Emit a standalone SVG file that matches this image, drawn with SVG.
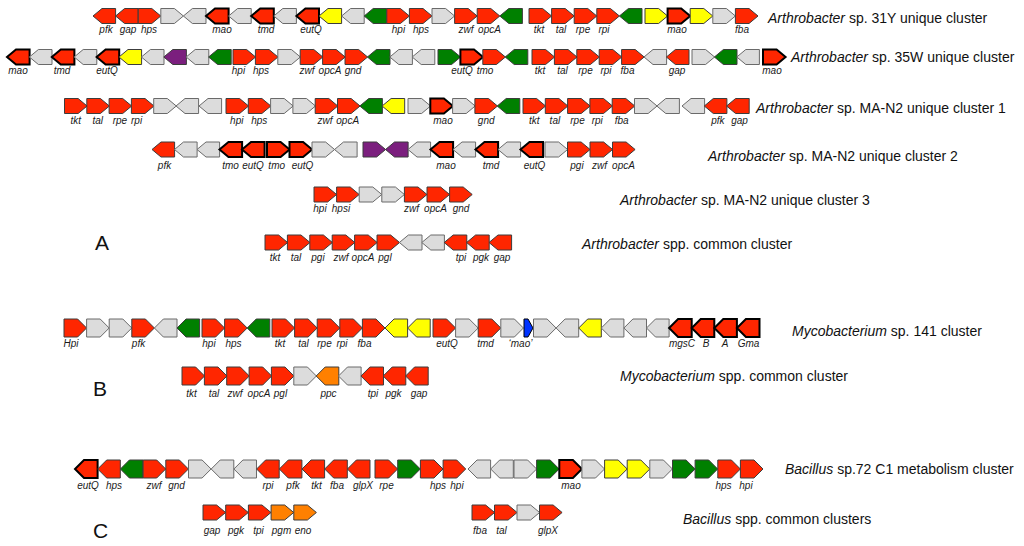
<svg xmlns="http://www.w3.org/2000/svg" width="1024" height="546" viewBox="0 0 1024 546">
<style>
use{stroke:#3c3c3c;stroke-width:1;stroke-linejoin:miter}
.r{fill:#ff2600}.g{fill:#008000}.y{fill:#ffff00}.e{fill:#dcdcdc;stroke:#6a6a6a}.p{fill:#7b1f7e}.o{fill:#ff8000}
.k{stroke:#000;stroke-width:2}
.t{font-family:"Liberation Sans",Arial,sans-serif;font-style:italic;font-size:10px;fill:#1a1a1a;text-anchor:middle}
.n{font-family:"Liberation Sans",Arial,sans-serif;font-size:14px;fill:#111}
.n tspan{font-style:italic}
.big{font-family:"Liberation Sans",Arial,sans-serif;font-size:21px;fill:#111}
</style>
<defs>
<path id="R" d="M0,0H13.6L22.6,7.5L13.6,15H0Z"/>
<path id="L" d="M22.6,0H9L0,7.5L9,15H22.6Z"/>
<path id="R2" d="M0,0H13.6L22.6,9L13.6,18H0Z"/>
<path id="L2" d="M22.6,0H9L0,9L9,18H22.6Z"/>
</defs>
<g id="row1">
<use href="#L" x="93" y="8.5" class="r"/><use href="#L" x="115.6" y="8.5" class="r"/><use href="#R" x="138.2" y="8.5" class="r"/><use href="#R" x="160.8" y="8.5" class="e"/><use href="#L" x="183.4" y="8.5" class="e"/><use href="#L" x="206" y="8.5" class="r k"/><use href="#L" x="228.6" y="8.5" class="e"/><use href="#L" x="251.2" y="8.5" class="r k"/><use href="#L" x="273.8" y="8.5" class="e"/><use href="#L" x="296.4" y="8.5" class="r k"/><use href="#L" x="319" y="8.5" class="y"/><use href="#L" x="341.6" y="8.5" class="e"/><use href="#L" x="364.2" y="8.5" class="g"/><use href="#R" x="386.8" y="8.5" class="r"/><use href="#R" x="409.4" y="8.5" class="r"/><use href="#R" x="432" y="8.5" class="e"/><use href="#R" x="454.6" y="8.5" class="r"/><use href="#R" x="477.2" y="8.5" class="r"/><use href="#L" x="499.8" y="8.5" class="g"/><use href="#R" x="529" y="8.5" class="r"/><use href="#R" x="551.6" y="8.5" class="r"/><use href="#R" x="574.2" y="8.5" class="r"/><use href="#R" x="596.8" y="8.5" class="r"/><use href="#L" x="619.4" y="8.5" class="g"/><use href="#R" x="645" y="8.5" class="y"/><use href="#R" x="667.6" y="8.5" class="r k"/><use href="#R" x="690.2" y="8.5" class="y"/><use href="#R" x="712.8" y="8.5" class="e"/><use href="#R" x="735.4" y="8.5" class="r"/>
<text class="t" y="33"><tspan x="106">pfk</tspan><tspan x="128">gap</tspan><tspan x="149">hps</tspan><tspan x="222">mao</tspan><tspan x="266">tmd</tspan><tspan x="311">eutQ</tspan><tspan x="398.5">hpi</tspan><tspan x="421">hps</tspan><tspan x="466">zwf</tspan><tspan x="489.5">opcA</tspan><tspan x="539">tkt</tspan><tspan x="561">tal</tspan><tspan x="583">rpe</tspan><tspan x="604">rpi</tspan><tspan x="677">mao</tspan><tspan x="742">fba</tspan></text>
<text class="n" x="768" y="23"><tspan>Arthrobacter</tspan> sp. 31Y unique cluster</text>
</g>
<g id="row2">
<use href="#L" x="7" y="49.5" class="r k"/><use href="#L" x="29.4" y="49.5" class="e"/><use href="#L" x="51.8" y="49.5" class="r k"/><use href="#L" x="74.2" y="49.5" class="e"/><use href="#L" x="96.6" y="49.5" class="r k"/><use href="#L" x="119" y="49.5" class="y"/><use href="#L" x="141.4" y="49.5" class="e"/><use href="#L" x="163.8" y="49.5" class="p"/><use href="#L" x="186.2" y="49.5" class="e"/><use href="#L" x="208.6" y="49.5" class="g"/><use href="#R" x="233" y="49.5" class="r"/><use href="#R" x="255.4" y="49.5" class="r"/><use href="#R" x="277.8" y="49.5" class="e"/><use href="#R" x="300.2" y="49.5" class="r"/><use href="#R" x="322.6" y="49.5" class="r"/><use href="#R" x="345" y="49.5" class="r"/><use href="#L" x="367.4" y="49.5" class="g"/><use href="#L" x="389.8" y="49.5" class="e"/><use href="#L" x="412.2" y="49.5" class="e"/><use href="#R" x="438" y="49.5" class="g"/><use href="#R" x="460.4" y="49.5" class="r k"/><use href="#R" x="482.8" y="49.5" class="r"/><use href="#L" x="505.2" y="49.5" class="g"/><use href="#R" x="532" y="49.5" class="r"/><use href="#R" x="554.4" y="49.5" class="r"/><use href="#R" x="576.8" y="49.5" class="r"/><use href="#R" x="599.2" y="49.5" class="r"/><use href="#R" x="621.6" y="49.5" class="r"/><use href="#L" x="644" y="49.5" class="e"/><use href="#L" x="666.4" y="49.5" class="r"/><use href="#R" x="692" y="49.5" class="e"/><use href="#L" x="714.4" y="49.5" class="g"/><use href="#L" x="736.8" y="49.5" class="e"/><use href="#R" x="763" y="49.5" class="r k"/>
<text class="t" y="74"><tspan x="18">mao</tspan><tspan x="62">tmd</tspan><tspan x="107">eutQ</tspan><tspan x="238.5">hpi</tspan><tspan x="261">hps</tspan><tspan x="307">zwf</tspan><tspan x="330">opcA</tspan><tspan x="353">gnd</tspan><tspan x="462">eutQ</tspan><tspan x="485">tmo</tspan><tspan x="540">tkt</tspan><tspan x="562.5">tal</tspan><tspan x="585.5">rpe</tspan><tspan x="606">rpi</tspan><tspan x="627.5">fba</tspan><tspan x="677">gap</tspan><tspan x="772">mao</tspan></text>
<text class="n" x="791" y="62"><tspan>Arthrobacter</tspan> sp. 35W unique cluster</text>
</g>
<g id="row3">
<use href="#R" x="64.5" y="98.5" class="r"/><use href="#R" x="86.8" y="98.5" class="r"/><use href="#R" x="109.1" y="98.5" class="r"/><use href="#R" x="131.4" y="98.5" class="r"/><use href="#R" x="153.7" y="98.5" class="e"/><use href="#L" x="176" y="98.5" class="e"/><use href="#L" x="199" y="98.5" class="e"/><use href="#R" x="226" y="98.5" class="r"/><use href="#R" x="248.3" y="98.5" class="r"/><use href="#R" x="270.6" y="98.5" class="e"/><use href="#R" x="292.9" y="98.5" class="e"/><use href="#R" x="315.2" y="98.5" class="r"/><use href="#R" x="337.5" y="98.5" class="r"/><use href="#L" x="359.8" y="98.5" class="g"/><use href="#L" x="382.1" y="98.5" class="y"/><use href="#R" x="408" y="98.5" class="e"/><use href="#R" x="430.3" y="98.5" class="r k"/><use href="#R" x="452.6" y="98.5" class="e"/><use href="#R" x="474.9" y="98.5" class="r"/><use href="#L" x="497.2" y="98.5" class="g"/><use href="#R" x="523" y="98.5" class="r"/><use href="#R" x="545.3" y="98.5" class="r"/><use href="#R" x="567.6" y="98.5" class="r"/><use href="#R" x="589.9" y="98.5" class="r"/><use href="#R" x="612.2" y="98.5" class="r"/><use href="#R" x="634.5" y="98.5" class="e"/><use href="#L" x="656.8" y="98.5" class="e"/><use href="#L" x="682" y="98.5" class="e"/><use href="#L" x="704.3" y="98.5" class="r"/><use href="#L" x="726.6" y="98.5" class="r"/>
<text class="t" y="124"><tspan x="75.7">tkt</tspan><tspan x="97.8">tal</tspan><tspan x="119.9">rpe</tspan><tspan x="136.6">rpi</tspan><tspan x="236.8">hpi</tspan><tspan x="259.3">hps</tspan><tspan x="325.1">zwf</tspan><tspan x="347.7">opcA</tspan><tspan x="443">mao</tspan><tspan x="486.2">gnd</tspan><tspan x="534.3">tkt</tspan><tspan x="554.9">tal</tspan><tspan x="577.5">rpe</tspan><tspan x="597.2">rpi</tspan><tspan x="621.7">fba</tspan><tspan x="717.9">pfk</tspan><tspan x="739.5">gap</tspan></text>
<text class="n" x="756" y="113"><tspan>Arthrobacter</tspan> sp. MA-N2 unique cluster 1</text>
</g>
<g id="row4">
<use href="#L" x="152" y="142" class="r"/><use href="#L" x="174.5" y="142" class="e"/><use href="#L" x="197" y="142" class="e"/><use href="#L" x="219.5" y="142" class="r k"/><use href="#L" x="242" y="142" class="r k"/><use href="#R" x="267" y="142" class="r k"/><use href="#R" x="289.5" y="142" class="r k"/><use href="#R" x="312" y="142" class="e"/><use href="#L" x="334.5" y="142" class="e"/><use href="#R" x="363" y="142" class="p"/><use href="#L" x="385.5" y="142" class="p"/><use href="#L" x="408" y="142" class="e"/><use href="#L" x="430.5" y="142" class="r k"/><use href="#L" x="453" y="142" class="e"/><use href="#L" x="475.5" y="142" class="r k"/><use href="#L" x="498" y="142" class="e"/><use href="#L" x="520.5" y="142" class="r k"/><use href="#R" x="545" y="142" class="e"/><use href="#R" x="567.5" y="142" class="r"/><use href="#R" x="590" y="142" class="r"/><use href="#R" x="612.5" y="142" class="r"/>
<text class="t" y="169"><tspan x="164.5">pfk</tspan><tspan x="230.5">tmo</tspan><tspan x="253">eutQ</tspan><tspan x="276.7">tmo</tspan><tspan x="302.5">eutQ</tspan><tspan x="446">mao</tspan><tspan x="491">tmd</tspan><tspan x="534.5">eutQ</tspan><tspan x="577">pgi</tspan><tspan x="599.5">zwf</tspan><tspan x="623.5">opcA</tspan></text>
<text class="n" x="708" y="161"><tspan>Arthrobacter</tspan> sp. MA-N2 unique cluster 2</text>
</g>
<g id="row5">
<use href="#R" x="314" y="187" class="r"/><use href="#R" x="336.6" y="187" class="r"/><use href="#R" x="359.2" y="187" class="e"/><use href="#R" x="381.8" y="187" class="e"/><use href="#R" x="404.4" y="187" class="r"/><use href="#R" x="427" y="187" class="r"/><use href="#R" x="449.6" y="187" class="r"/>
<text class="t" y="212"><tspan x="320">hpi</tspan><tspan x="341">hpsi</tspan><tspan x="411.5">zwf</tspan><tspan x="435.5">opcA</tspan><tspan x="461">gnd</tspan></text>
<text class="n" x="620" y="205"><tspan>Arthrobacter</tspan> sp. MA-N2 unique cluster 3</text>
</g>
<g id="row6">
<use href="#R" x="265" y="235" class="r"/><use href="#R" x="287.4" y="235" class="r"/><use href="#R" x="309.8" y="235" class="r"/><use href="#R" x="332.2" y="235" class="r"/><use href="#R" x="354.6" y="235" class="r"/><use href="#R" x="377" y="235" class="r"/><use href="#L" x="399.4" y="235" class="e"/><use href="#L" x="421.8" y="235" class="e"/><use href="#L" x="444.2" y="235" class="r"/><use href="#L" x="466.6" y="235" class="r"/><use href="#L" x="489" y="235" class="r"/>
<text class="t" y="261"><tspan x="275">tkt</tspan><tspan x="296">tal</tspan><tspan x="318">pgi</tspan><tspan x="341">zwf</tspan><tspan x="363">opcA</tspan><tspan x="385">pgl</tspan><tspan x="461">tpi</tspan><tspan x="481">pgk</tspan><tspan x="502">gap</tspan></text>
<text class="n" x="582" y="249"><tspan>Arthrobacter</tspan> spp. common cluster</text>
</g>
<text class="big" x="95" y="250">A</text>
<g id="row7">
<use href="#R2" x="64" y="319" class="r"/><use href="#R2" x="86.6" y="319" class="e"/><use href="#R2" x="109.2" y="319" class="e"/><use href="#R2" x="131.8" y="319" class="r"/><use href="#L2" x="154.4" y="319" class="e"/><use href="#L2" x="177" y="319" class="g"/><use href="#R2" x="202" y="319" class="r"/><use href="#R2" x="224.6" y="319" class="r"/><use href="#L2" x="247.2" y="319" class="g"/><use href="#R2" x="272" y="319" class="r"/><use href="#R2" x="294.6" y="319" class="r"/><use href="#R2" x="317.2" y="319" class="r"/><use href="#R2" x="339.8" y="319" class="r"/><use href="#R2" x="362.4" y="319" class="r"/><use href="#L2" x="385" y="319" class="y"/><use href="#L2" x="407.6" y="319" class="y"/><use href="#R2" x="433" y="319" class="r"/><use href="#R2" x="455.6" y="319" class="e"/><use href="#R2" x="478.2" y="319" class="r"/><use href="#R2" x="500.8" y="319" class="e"/>
<polygon points="524,319 528,319 533,328 528,337 524,337" fill="#0033ff" stroke="#000" stroke-width="1"/>
<use href="#R2" x="533.5" y="319" class="e"/><use href="#L2" x="556.1" y="319" class="e"/><use href="#L2" x="578.7" y="319" class="y"/><use href="#L2" x="601.3" y="319" class="e"/><use href="#L2" x="623.9" y="319" class="e"/><use href="#L2" x="646.5" y="319" class="e"/><use href="#L2" x="669.1" y="319" class="r k"/><use href="#L2" x="691.7" y="319" class="r k"/><use href="#L2" x="714.3" y="319" class="r k"/><use href="#L2" x="736.9" y="319" class="r k"/>
<text class="t" y="347"><tspan x="71">Hpi</tspan><tspan x="138.5">pfk</tspan><tspan x="209">hpi</tspan><tspan x="233.5">hps</tspan><tspan x="280">tkt</tspan><tspan x="303.5">tal</tspan><tspan x="324.5">rpe</tspan><tspan x="342">rpi</tspan><tspan x="364.5">fba</tspan><tspan x="447">eutQ</tspan><tspan x="485.5">tmd</tspan><tspan x="520.5">‘mao’</tspan><tspan x="682">mgsC</tspan><tspan x="706">B</tspan><tspan x="725">A</tspan><tspan x="748.5">Gma</tspan></text>
<text class="n" x="792" y="336"><tspan>Mycobacterium</tspan> sp. 141 cluster</text>
</g>
<g id="row8">
<use href="#R2" x="182" y="367" class="r"/><use href="#R2" x="204.4" y="367" class="r"/><use href="#R2" x="226.7" y="367" class="r"/><use href="#R2" x="249.1" y="367" class="r"/><use href="#R2" x="271.4" y="367" class="r"/><use href="#R2" x="293.8" y="367" class="e"/><use href="#L2" x="316.2" y="367" class="o"/><use href="#L2" x="338.5" y="367" class="e"/><use href="#L2" x="360.9" y="367" class="r"/><use href="#L2" x="383.2" y="367" class="r"/><use href="#L2" x="405.6" y="367" class="r"/>
<text class="t" y="397"><tspan x="191.5">tkt</tspan><tspan x="214">tal</tspan><tspan x="235">zwf</tspan><tspan x="259">opcA</tspan><tspan x="280.5">pgl</tspan><tspan x="328.5">ppc</tspan><tspan x="373">tpi</tspan><tspan x="393.5">pgk</tspan><tspan x="419">gap</tspan></text>
<text class="n" x="620" y="381"><tspan>Mycobacterium</tspan> spp. common cluster</text>
</g>
<text class="big" x="93" y="396">B</text>
<g id="row9">
<use href="#L2" x="75" y="460" class="r k"/><use href="#L2" x="97.7" y="460" class="r"/><use href="#L2" x="120.4" y="460" class="g"/><use href="#R2" x="143.1" y="460" class="r"/><use href="#R2" x="165.8" y="460" class="r"/><use href="#R2" x="188.5" y="460" class="e"/><use href="#L2" x="211.2" y="460" class="e"/><use href="#L2" x="233.9" y="460" class="e"/><use href="#L2" x="256.6" y="460" class="r"/><use href="#L2" x="279.3" y="460" class="r"/><use href="#L2" x="302" y="460" class="r"/><use href="#L2" x="324.7" y="460" class="r"/><use href="#L2" x="347.4" y="460" class="r"/><use href="#R2" x="375" y="460" class="r"/><use href="#R2" x="397.7" y="460" class="g"/><use href="#R2" x="420.4" y="460" class="r"/><use href="#R2" x="443.1" y="460" class="r"/><use href="#L2" x="468" y="460" class="e"/><use href="#L2" x="490.7" y="460" class="e"/><use href="#R2" x="514" y="460" class="e"/><use href="#R2" x="536.6" y="460" class="g"/><use href="#R2" x="559.3" y="460" class="r k"/><use href="#R2" x="581.9" y="460" class="e"/><use href="#R2" x="604.6" y="460" class="y"/><use href="#R2" x="627.2" y="460" class="y"/><use href="#R2" x="649.8" y="460" class="e"/><use href="#R2" x="672.5" y="460" class="g"/><use href="#R2" x="695.1" y="460" class="g"/><use href="#R2" x="717.8" y="460" class="r"/><use href="#R2" x="740.4" y="460" class="r"/>
<text class="t" y="489"><tspan x="88">eutQ</tspan><tspan x="114">hps</tspan><tspan x="154">zwf</tspan><tspan x="176.5">gnd</tspan><tspan x="268">rpi</tspan><tspan x="293">pfk</tspan><tspan x="316.5">tkt</tspan><tspan x="337">fba</tspan><tspan x="363">glpX</tspan><tspan x="386.5">rpe</tspan><tspan x="438">hps</tspan><tspan x="457">hpi</tspan><tspan x="571">mao</tspan><tspan x="723.5">hps</tspan><tspan x="746">hpi</tspan></text>
<text class="n" x="785" y="474"><tspan>Bacillus</tspan> sp.72 C1 metabolism cluster</text>
</g>
<g id="row10">
<use href="#R" x="203" y="505" class="r"/><use href="#R" x="225.7" y="505" class="r"/><use href="#R" x="248.4" y="505" class="r"/><use href="#R" x="271.1" y="505" class="o"/><use href="#R" x="293.8" y="505" class="o"/><use href="#R" x="472" y="505" class="r"/><use href="#R" x="494.5" y="505" class="r"/><use href="#R" x="517" y="505" class="e"/><use href="#R" x="539.5" y="505" class="r"/>
<text class="t" y="534"><tspan x="212">gap</tspan><tspan x="236">pgk</tspan><tspan x="258.5">tpi</tspan><tspan x="281.5">pgm</tspan><tspan x="303">eno</tspan><tspan x="480">fba</tspan><tspan x="501.5">tal</tspan><tspan x="548">glpX</tspan></text>
<text class="n" x="683" y="524"><tspan>Bacillus</tspan> spp. common clusters</text>
</g>
<text class="big" x="93" y="538">C</text>
</svg>
